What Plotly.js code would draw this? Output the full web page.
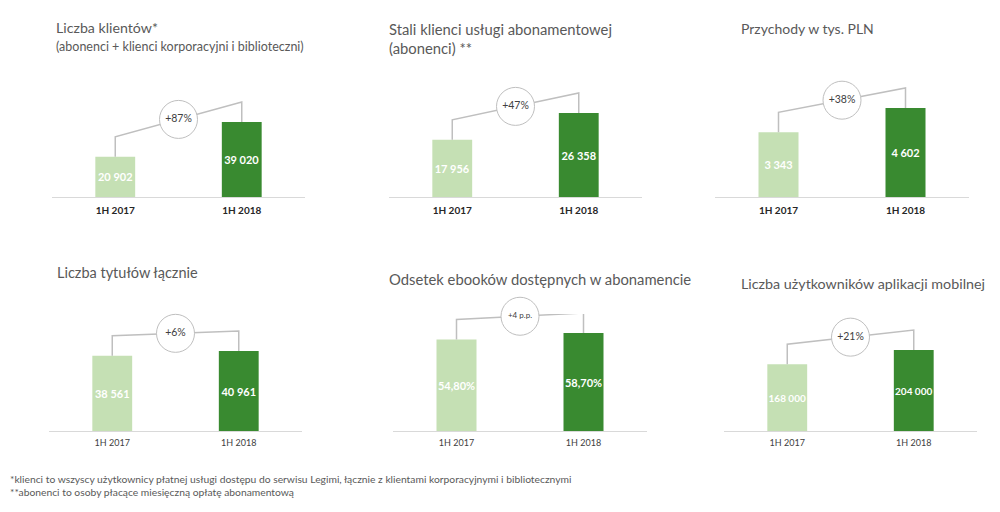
<!DOCTYPE html>
<html><head><meta charset="utf-8">
<script src="https://cdn.plot.ly/plotly-3.0.1.min.js"></script>
<style>html,body{margin:0;padding:0;background:#fff}#chart{width:1000px;height:512px}</style>
</head><body><div id="chart"></div>
<script>
// ---- data ----
const periods = ['1H 2017', '1H 2018'];
const clientsTotal = [20902, 39020];
const subscribers = [17956, 26358];
const revenue = [3343, 4602];
const titlesTotal = [38561, 40961];
const ebookShare = [54.8, 58.7];
const appUsers = [168000, 204000];
const changeLabels = ['+87%', '+47%', '+38%', '+6%', '+4 p.p.', '+21%'];
const panelTitles = [
  'Liczba klientów*',
  'Stali klienci usługi abonamentowej<br>(abonenci) **',
  'Przychody w tys. PLN',
  'Liczba tytułów łącznie',
  'Odsetek ebooków dostępnych w abonamencie',
  'Liczba użytkowników aplikacji mobilnej'
];
const panel1Subtitle = '(abonenci + klienci korporacyjni i biblioteczni)';
const footnotes = [
  '*klienci to wszyscy użytkownicy płatnej usługi dostępu do serwisu Legimi, łącznie z klientami korporacyjnymi i bibliotecznymi',
  '**abonenci to osoby płacące miesięczną opłatę abonamentową'
];

// ---- layout / style config ----
const W = 1000, H = 512;
const series = [clientsTotal, subscribers, revenue, titlesTotal, ebookShare, appUsers];
const fmt = ['%{y:,.0f}', '%{y:,.0f}', '%{y:,.0f}', '%{y:,.0f}', '%{y:.2f}%', '%{y:,.0f}'];
const panels = [
  {x0: 52,  x1: 305, row: 0, ymax: 60871,  tx: 54,  ty: 27, tsize: 14.2, vsize: 11},
  {x0: 389, x1: 642, row: 0, ymax: 36713,  tx: 387, ty: 38, tsize: 14.8, vsize: 11},
  {x0: 715, x1: 969, row: 0, ymax: 6050,   tx: 739, ty: 28, tsize: 14,   vsize: 11},
  {x0: 49,  x1: 302, row: 1, ymax: 59905,  tx: 55,  ty: 272, tsize: 14.5, vsize: 11},
  {x0: 393, x1: 647, row: 1, ymax: 70.08,  tx: 387, ty: 279, tsize: 14.8, vsize: 11},
  {x0: 724, x1: 977, row: 1, ymax: 294667, tx: 739, ty: 283, tsize: 14.3, vsize: 10}
];
const rows = [{bottom: 197, top: 80}, {bottom: 431, top: 314}];
const gapPx = 20;
const lightGreen = '#c5e0b4', darkGreen = '#398a30';
const fontFam = 'Lato, "Open Sans", sans-serif';

const traces = [];
const layout = {
  width: W, height: H,
  margin: {l: 0, r: 0, t: 0, b: 0},
  paper_bgcolor: '#ffffff', plot_bgcolor: 'rgba(0,0,0,0)',
  showlegend: false,
  separators: ', ',
  font: {family: fontFam, color: '#595959'},
  annotations: []
};

panels.forEach((p, i) => {
  const n = i + 1;
  const xa = 'x' + (n === 1 ? '' : n), ya = 'y' + (n === 1 ? '' : n);
  const r = rows[p.row];
  const plotH = r.bottom - r.top;
  const vals = series[i];
  const gap = gapPx / plotH * p.ymax;

  layout['xaxis' + (n === 1 ? '' : n)] = {
    domain: [p.x0 / W, p.x1 / W], range: [-0.5, 1.5], anchor: ya,
    tickvals: [0, 1], ticktext: periods, showgrid: false, zeroline: false,
    showline: true, linecolor: '#d9d9d9', linewidth: 1, ticks: '',
    tickfont: p.row === 0
      ? {family: fontFam, size: 10, color: '#262626', weight: 'bold'}
      : {family: fontFam, size: 9, color: '#404040'},
    ticklabelstandoff: p.row === 0 ? 4 : 3,
    fixedrange: true
  };
  layout['yaxis' + (n === 1 ? '' : n)] = {
    domain: [1 - r.bottom / H, 1 - r.top / H], range: [0, p.ymax], anchor: xa,
    showgrid: false, zeroline: false, showticklabels: false, showline: false, fixedrange: true
  };

  // connector line
  traces.push({
    type: 'scatter', mode: 'lines', xaxis: xa, yaxis: ya, cliponaxis: false,
    x: [0, 0, 1, 1],
    y: [vals[0], vals[0] + gap, vals[1] + gap, vals[1]],
    line: {color: '#bfbfbf', width: 1.5}, hoverinfo: 'skip'
  });
  // change circle
  traces.push({
    type: 'scatter', mode: 'markers+text', xaxis: xa, yaxis: ya, cliponaxis: false,
    x: [0.5], y: [(vals[0] + vals[1]) / 2 + gap],
    marker: {symbol: 'circle', size: 38, color: '#ffffff', line: {color: '#bfbfbf', width: 1}},
    text: [changeLabels[i]], textposition: 'middle center',
    textfont: {family: fontFam, size: i === 4 ? 8 : 10.5, color: '#404040'},
    hoverinfo: 'skip'
  });
  // bars
  traces.push({
    type: 'bar', xaxis: xa, yaxis: ya, x: [0, 1], y: vals, width: 0.315,
    marker: {color: [lightGreen, darkGreen], line: {width: 0}},
    texttemplate: fmt[i], textposition: 'inside', insidetextanchor: 'middle',
    textangle: 0, constraintext: 'none', cliponaxis: false,
    textfont: {family: fontFam, size: p.vsize, color: '#ffffff', weight: 'bold'},
    hoverinfo: 'skip'
  });

  layout.annotations.push({
    xref: 'paper', yref: 'paper', x: p.tx / W, y: 1 - p.ty / H,
    xanchor: 'left', yanchor: 'middle', align: 'left', showarrow: false,
    text: panelTitles[i], font: {family: fontFam, size: p.tsize, color: '#595959'}
  });
});

layout.annotations.push({
  xref: 'paper', yref: 'paper', x: 54 / W, y: 1 - 46 / H,
  xanchor: 'left', yanchor: 'middle', showarrow: false,
  text: panel1Subtitle, font: {family: fontFam, size: 12.5, color: '#595959'}
});
footnotes.forEach((t, k) => {
  layout.annotations.push({
    xref: 'paper', yref: 'paper', x: 8 / W, y: 1 - (479 + 13 * k) / H,
    xanchor: 'left', yanchor: 'middle', showarrow: false,
    text: t, font: {family: fontFam, size: 10.3, color: '#595959'}
  });
});

Plotly.newPlot('chart', traces, layout, {displayModeBar: false, staticPlot: true});
</script>
</body></html>
